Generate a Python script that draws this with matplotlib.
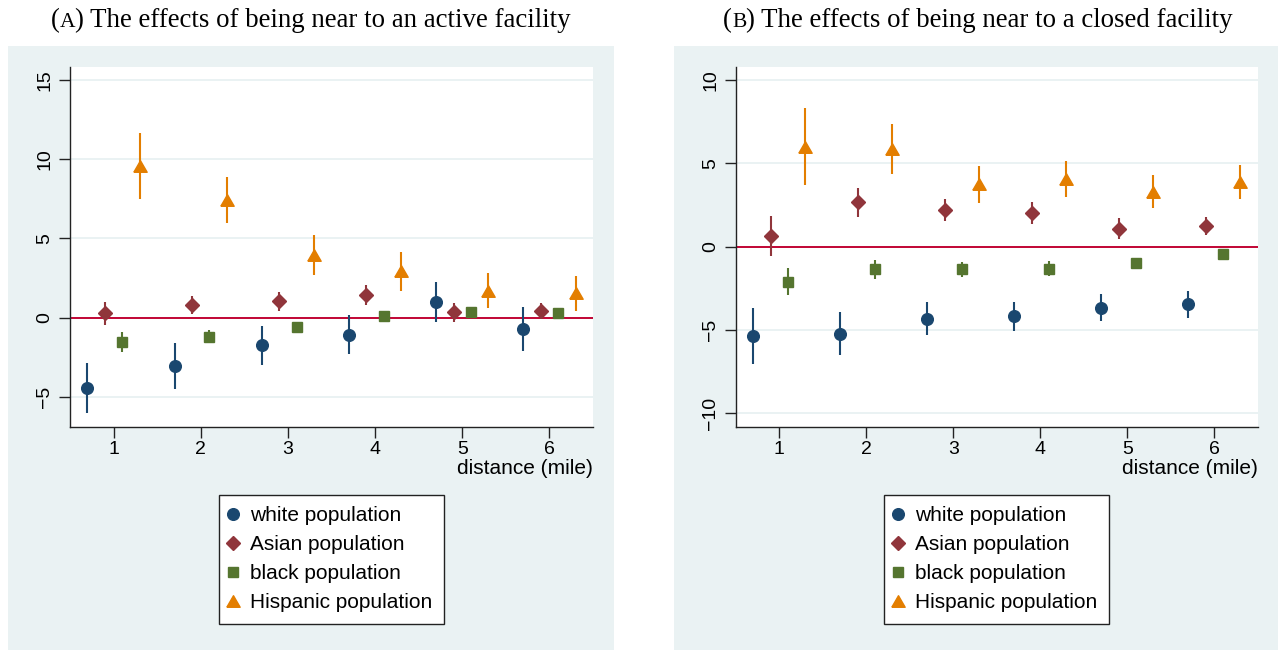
import numpy as np
import matplotlib
matplotlib.use('Agg')
import matplotlib.pyplot as plt
from matplotlib.patches import Rectangle
from matplotlib.transforms import IdentityTransform

# ---------------- data ----------------
distance = [1, 2, 3, 4, 5, 6]
groups = ['white population', 'Asian population', 'black population', 'Hispanic population']

# Panel A: active facility
a_white = [-4.45, -3.06, -1.76, -1.07, 0.97, -0.71]
a_white_err = [1.57, 1.44, 1.26, 1.24, 1.26, 1.37]
a_asian = [0.28, 0.79, 1.02, 1.43, 0.32, 0.42]
a_asian_err = [0.73, 0.58, 0.58, 0.63, 0.58, 0.50]
a_black = [-1.53, -1.20, -0.59, 0.13, 0.36, 0.28]
a_black_err = [0.63, 0.42, 0.15, 0.10, 0.10, 0.10]
a_hisp = [9.55, 7.42, 3.95, 2.91, 1.70, 1.54]
a_hisp_err = [2.08, 1.47, 1.26, 1.21, 1.10, 1.10]

# Panel B: closed facility
b_white = [-5.35, -5.21, -4.31, -4.17, -3.65, -3.46]
b_white_err = [1.70, 1.29, 0.97, 0.86, 0.83, 0.80]
b_asian = [0.66, 2.66, 2.20, 2.01, 1.09, 1.24]
b_asian_err = [1.20, 0.88, 0.68, 0.65, 0.61, 0.52]
b_black = [-2.09, -1.36, -1.36, -1.32, -0.96, -0.46]
b_black_err = [0.79, 0.58, 0.46, 0.46, 0.15, 0.12]
b_hisp = [6.01, 5.86, 3.75, 4.08, 3.30, 3.89]
b_hisp_err = [2.32, 1.51, 1.12, 1.09, 0.98, 1.02]

a_yticks = [-5, 0, 5, 10, 15]
b_yticks = [-10, -5, 0, 5, 10]
title_a = ('A', 'The effects of being near to an active facility')
title_b = ('B', 'The effects of being near to a closed facility')

# ---------------- style ----------------
W, H = 1281, 650
BG = '#eaf2f3'
colors = ['#1a476f', '#90353b', '#55752f', '#e37e00']
offsets = [-0.3, -0.1, 0.1, 0.3]
tri = [(-1, -0.866), (1, -0.866), (0, 0.866), (-1, -0.866)]
markers = ['o', 'D', 's', tri]
msizes = [8.4, 7.4, 7.9, 9.6]
SANS = ['Liberation Sans', 'DejaVu Sans']
plt.rcParams['font.family'] = SANS

fig = plt.figure(figsize=(W / 100, H / 100), dpi=100)
fig.patch.set_facecolor('white')

def px_rect(x0, y0, x1, y1):
    # pixel coords from top-left -> figure fraction rect
    return [x0 / W, 1 - y1 / H, (x1 - x0) / W, (y1 - y0) / H]

# panel backgrounds
for (x0, x1) in [(8, 614), (674, 1278)]:
    r = px_rect(x0, 46, x1, 650)
    fig.patches.append(Rectangle((r[0], r[1]), r[2], r[3], transform=fig.transFigure,
                                 facecolor=BG, edgecolor='none', zorder=-10))

def panel(rect, series, errs, yticks, ylim):
    ax = fig.add_axes(px_rect(*rect))
    ax.set_zorder(1)
    ax.set_facecolor('white')
    ax.set_xlim(0.5, 6.5)
    ax.set_ylim(*ylim)
    ax.set_xticks(distance)
    ax.set_yticks(yticks)
    ax.yaxis.grid(True, color=BG, lw=1.4, zorder=0)
    ax.set_axisbelow(True)
    for s in ['top', 'right']:
        ax.spines[s].set_visible(False)
    for s in ['left', 'bottom']:
        ax.spines[s].set_color('#222222')
        ax.spines[s].set_linewidth(1.0)
    ax.tick_params(axis='both', direction='out', length=8, width=1.0, color='#222222',
                   labelsize=14)
    ax.tick_params(axis='x', pad=2)
    ax.tick_params(axis='y', pad=4, labelrotation=90)
    for lab in ax.get_yticklabels():
        lab.set_va('center')
    ax.axhline(0, color='#c10534', lw=1.4, zorder=2)
    x = np.array(distance, dtype=float)
    handles = []
    for i in range(4):
        xs = x + offsets[i]
        v = np.array(series[i]); e = np.array(errs[i])
        ax.vlines(xs, v - e, v + e, color=colors[i], lw=1.5, zorder=3)
        h, = ax.plot(xs, v, linestyle='none', marker=markers[i], ms=msizes[i],
                     color=colors[i], mec=colors[i], zorder=4, label=groups[i])
        handles.append(h)
    ax.set_xlabel('distance (mile)', loc='right', fontsize=15, labelpad=1)
    leg = ax.legend(handles=handles, loc='upper center', bbox_to_anchor=(0.5, -0.189),
                    borderaxespad=0, frameon=True, fancybox=False, framealpha=1,
                    facecolor='white', edgecolor='#222222', fontsize=15,
                    handlelength=0.2, handletextpad=0.75, labelspacing=0.48,
                    borderpad=0.55, numpoints=1)
    leg.get_frame().set_linewidth(1.0)
    return ax

panel((70, 67, 593, 427), [a_white, a_asian, a_black, a_hisp],
      [a_white_err, a_asian_err, a_black_err, a_hisp_err], a_yticks, (-6.9, 15.8))
panel((735.7, 66.7, 1257.7, 426.7), [b_white, b_asian, b_black, b_hisp],
      [b_white_err, b_asian_err, b_black_err, b_hisp_err], b_yticks, (-10.8, 10.8))

# titles with small-caps panel letter
renderer = fig.canvas.get_renderer()
def sc_title(cx, base_y, letter, rest, size=19.4):
    parts = [('(', size), (letter, size * 0.8), (') ' + rest, size)]
    ts = []
    total = 0
    for s, fs in parts:
        t = fig.text(0, 0, s, fontsize=fs, family=['Liberation Serif', 'DejaVu Serif'],
                     ha='left', va='baseline', transform=IdentityTransform())
        w = t.get_window_extent(renderer).width
        ts.append((t, w))
        total += w
    x = cx - total / 2
    for t, w in ts:
        t.set_position((x, H - base_y))
        x += w

sc_title(311, 27, *title_a)
sc_title(978, 27, *title_b)

fig.savefig('out.png', dpi=100)
